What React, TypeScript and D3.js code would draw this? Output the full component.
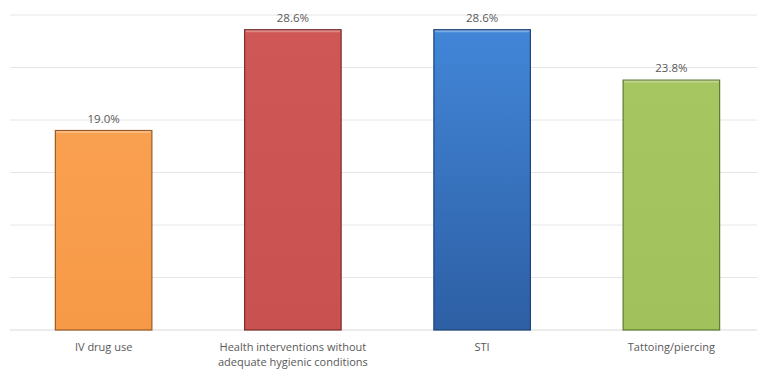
import React from "react";
import * as d3 from "d3";

const categories = [
  ["IV drug use"],
  ["Health interventions without", "adequate hygienic conditions"],
  ["STI"],
  ["Tattoing/piercing"],
];
const values = [19.0, 28.6, 28.6, 23.8];
const tickValues = [0, 5, 10, 15, 20, 25, 30];
const fills = [
  ["#F9A050", "#F79A47", "#9A5B22"],
  ["#CF5755", "#C9514F", "#7A2E2C"],
  ["#4286D8", "#2D5FA4", "#1F4478"],
  ["#A6C661", "#A0C15B", "#5E7A30"],
];

export default function App() {
  const W = 757, H = 369;
  const x = d3.scaleBand<number>().domain(d3.range(values.length)).range([9, 766]).paddingInner(0.49).paddingOuter(0.245);
  const y = d3.scaleLinear().domain([0, 30]).range([330, 15]);
  return (
    <svg width={W} height={H} style={{ position: "absolute", left: 0, top: 0, background: "#fff" }}>
      <defs>
        {fills.map((f, i) => (
          <linearGradient key={i} id={`g${i}`} x1="0" y1="0" x2="0" y2="1">
            <stop offset="0" stopColor={f[0]} />
            <stop offset="1" stopColor={f[1]} />
          </linearGradient>
        ))}
      </defs>
      {tickValues.map((t) => (
        <line key={t} x1={10} x2={757} y1={y(t)} y2={y(t)} stroke={t === 0 ? "#d9d9d9" : "#e6e6e6"} strokeWidth={1} />
      ))}
      {values.map((v, i) => {
        const bx = x(i)!;
        const bw = x.bandwidth();
        return (
          <g key={i}>
            <rect x={bx} y={y(v)} width={bw} height={y(0) - y(v)} fill={`url(#g${i})`} stroke={fills[i][2]} strokeWidth={1.2} />
            <line x1={bx + 1} x2={bx + bw - 1} y1={y(v) + 1.5} y2={y(v) + 1.5} stroke="#ffffff" strokeOpacity={0.3} strokeWidth={2} />
            <text x={bx + bw / 2} y={y(v) - 8} textAnchor="middle" fontFamily="'Open Sans', 'Liberation Sans', sans-serif" fontSize={11.5} fill="#595959">
              {v.toFixed(1)}%
            </text>
            {categories[i].map((line, j) => (
              <text key={j} x={bx + bw / 2} y={351 + j * 15} textAnchor="middle" fontFamily="'Open Sans', 'Liberation Sans', sans-serif" fontSize={11} fill="#595959">
                {line}
              </text>
            ))}
          </g>
        );
      })}
    </svg>
  );
}
